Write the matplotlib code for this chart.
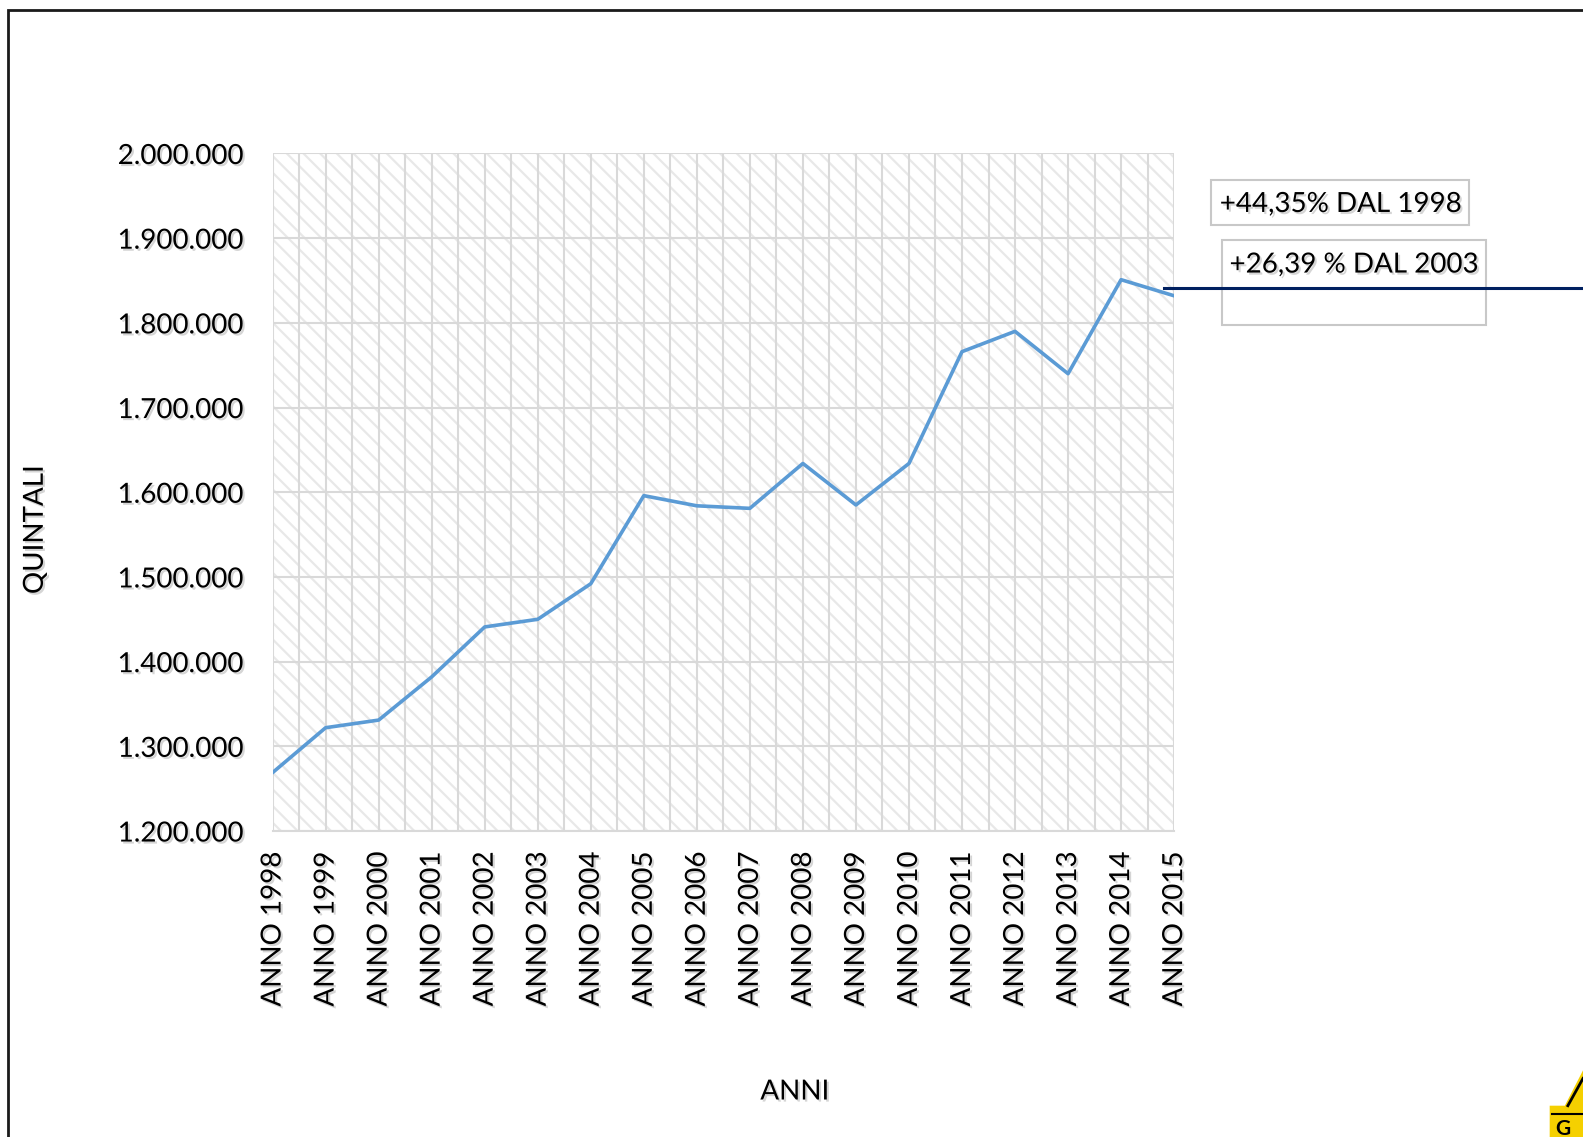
import numpy as np
import matplotlib
matplotlib.use('Agg')
from matplotlib import pyplot as plt
from matplotlib.patches import Rectangle, Polygon
from matplotlib.ticker import FuncFormatter, MultipleLocator
import matplotlib.patheffects as pe

plt.rcParams['font.family'] = ['Lato', 'DejaVu Sans']
plt.rcParams['hatch.linewidth'] = 1.6

# valori (quintali)
anni = ['ANNO %d' % a for a in range(1998, 2016)]
quintali = [1269000, 1322000, 1331000, 1382000, 1441000, 1450000, 1492000,
            1596000, 1584000, 1581000, 1634000, 1585000, 1634000, 1766000,
            1790000, 1740000, 1851000, 1832000]
note = ['+44,35% DAL 1998', '+26,39 % DAL 2003']

shadow = [pe.SimplePatchShadow(offset=(1.5, -1.5), shadow_rgbFace='#888888', alpha=0.35), pe.Normal()]

fig = plt.figure(figsize=(15.83, 11.37), dpi=100)
ax = fig.add_axes([0.1722, 0.2691, 0.5695, 0.5959])

x = np.arange(len(anni))
ax.set_xlim(0, len(anni) - 1)
ax.set_ylim(1200000, 2000000)

# sfondo tratteggiato
ax.add_patch(Rectangle((0, 0), 1, 1, transform=ax.transAxes, facecolor='white',
                       edgecolor='#e8e8e8', hatch='\\\\', linewidth=0, zorder=0))

ax.yaxis.set_major_locator(MultipleLocator(100000))
ax.xaxis.set_major_locator(MultipleLocator(1))
ax.xaxis.set_minor_locator(MultipleLocator(0.5))
ax.grid(True, which='major', color='#d9d9d9', linewidth=1.5, zorder=1)
ax.grid(True, which='minor', axis='x', color='#d9d9d9', linewidth=1.5, zorder=1)
ax.set_axisbelow(True)

ax.plot(x, quintali, color='#5b9bd5', linewidth=2.6, zorder=3)

ax.yaxis.set_major_formatter(FuncFormatter(lambda v, p: '{:,.0f}'.format(v).replace(',', '.')))
ax.set_xticks(x)
ax.set_xticklabels(anni, rotation=90)
ax.tick_params(axis='both', which='both', length=0, labelsize=20, colors='black')
ax.tick_params(axis='y', pad=21)
ax.tick_params(axis='x', pad=15)
for t in ax.get_xticklabels() + ax.get_yticklabels():
    t.set_path_effects(shadow)

for s in ['top', 'right', 'left']:
    ax.spines[s].set_visible(False)
ax.spines['bottom'].set_color('#d9d9d9')
ax.spines['bottom'].set_linewidth(1.5)

fig.text(0.022, 0.534, 'QUINTALI', rotation=90, ha='center', va='center', fontsize=20,
         path_effects=shadow)
fig.text(0.502, 0.040, 'ANNI', ha='center', va='center', fontsize=20, path_effects=shadow)

# cornice
fig.add_artist(Rectangle((0.0051, -0.1), 1.2, 1.0911, transform=fig.transFigure,
                         fill=False, edgecolor='#1a1a1a', linewidth=2))

# riquadri note
fig.add_artist(Rectangle((1200 / 1568, 1 - 223 / 1126), 255 / 1568, 45 / 1126,
                         transform=fig.transFigure, facecolor='white', edgecolor='#c8c8c8', linewidth=1.5))
fig.text(1328 / 1568, 1 - 202 / 1126, note[0], ha='center', va='center', fontsize=20,
         path_effects=shadow)
fig.add_artist(Rectangle((1210 / 1568, 1 - 322 / 1126), 262 / 1568, 84 / 1126,
                         transform=fig.transFigure, facecolor='white', edgecolor='#c8c8c8', linewidth=1.5))
fig.text(1341 / 1568, 1 - 262 / 1126, note[1], ha='center', va='center', fontsize=20,
         path_effects=shadow)
fig.add_artist(plt.Line2D([1153 / 1568, 1.0], [1 - 285 / 1126, 1 - 285 / 1126],
                          transform=fig.transFigure, color='#002060', linewidth=2.2))

# logo in basso a destra (parziale)
fig.add_artist(Polygon([(1535 / 1568, 0), (1535 / 1568, 1 - 1095 / 1126), (1550 / 1568, 1 - 1095 / 1126),
                        (1568 / 1568, 1 - 1060 / 1126), (1.0, 0)],
                       closed=True, transform=fig.transFigure, facecolor='#f5d000', edgecolor='none'))
fig.add_artist(plt.Line2D([1553 / 1568, 1568 / 1568], [1 - 1095 / 1126, 1 - 1068 / 1126],
                          transform=fig.transFigure, color='black', linewidth=2))
fig.add_artist(plt.Line2D([1537 / 1568, 1.0], [1 - 1103 / 1126, 1 - 1103 / 1126],
                          transform=fig.transFigure, color='black', linewidth=1.5))
fig.text(1548 / 1568, 1 - 1118 / 1126, 'G', ha='center', va='center', fontsize=15,
         fontweight='bold', color='black')

fig.savefig('out.png', dpi=100)
